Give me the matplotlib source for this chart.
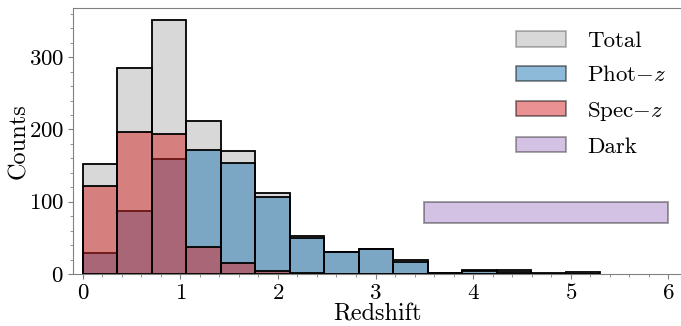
import numpy as np
import matplotlib.pyplot as plt
from matplotlib.patches import Patch
from matplotlib.ticker import MultipleLocator

plt.rcParams['font.family'] = 'cmr10'
plt.rcParams['mathtext.fontset'] = 'cm'
plt.rcParams['axes.formatter.use_mathtext'] = True
plt.rcParams['axes.unicode_minus'] = False

# redshift histogram, 15 bins between z=0 and z=5.3
edges = np.linspace(0, 5.3, 16)
total = [152, 285, 352, 211, 170, 112, 53, 30, 35, 19, 2, 6, 6, 1, 3]
phot = [29, 87, 159, 172, 153, 106, 50, 30, 34, 17, 1, 4, 3, 0, 0]
spec = [122, 197, 193, 38, 15, 4, 1, 0, 0, 0, 0, 0, 0, 0, 0]

# dark sources: redshift range and count band
dark_z = [3.5, 6.0]
dark_n = [70, 100]

c_tot, a_tot = 'grey', 0.3
c_phot, a_phot = '#1f77b4', 0.5
c_spec, a_spec = '#d62728', 0.5
c_dark, a_dark = '#9467bd', 0.4

fig = plt.figure(figsize=(6.81, 3.26), dpi=100)
ax = fig.add_axes([73/681, 1-274/326, 608/681, 266/326])

left = edges[:-1]
width = np.diff(edges)
for vals, c, a in [(total, c_tot, a_tot), (phot, c_phot, a_phot), (spec, c_spec, a_spec)]:
    ax.bar(left, vals, width=width, align='edge', color=plt.matplotlib.colors.to_rgba(c, a),
           edgecolor='k', linewidth=1.3)

ax.bar(dark_z[0], dark_n[1]-dark_n[0], width=dark_z[1]-dark_z[0], bottom=dark_n[0],
       align='edge', color=c_dark, edgecolor='k', linewidth=1.3, alpha=a_dark)

ax.set_xlim(-0.1, 6.13)
ax.set_ylim(0, 368)
ax.xaxis.set_minor_locator(MultipleLocator(0.2))
ax.yaxis.set_minor_locator(MultipleLocator(20))
ax.set_yticks([0, 100, 200, 300])
ax.set_xticks(range(7))
for s in ['left', 'top', 'bottom']:
    ax.spines[s].set_color('grey')
    ax.spines[s].set_linewidth(0.8)
ax.spines['right'].set_visible(False)
ax.tick_params(which='both', color='grey', labelsize=16.5, pad=3)
ax.tick_params(which='major', length=3.5, width=0.8)
ax.tick_params(which='minor', length=2, width=0.6)
ax.set_xlabel('Redshift', size=17.5, labelpad=0)
ax.set_ylabel('Counts', size=17.5, labelpad=-1)

handles = [Patch(facecolor=c_tot, edgecolor='k', alpha=a_tot, linewidth=1.2),
           Patch(facecolor=c_phot, edgecolor='k', alpha=a_phot, linewidth=1.2),
           Patch(facecolor=c_spec, edgecolor='k', alpha=a_spec, linewidth=1.2),
           Patch(facecolor=c_dark, edgecolor='k', alpha=a_dark, linewidth=1.2)]
labels = ['Total', 'Phot$-z$', 'Spec$-z$', 'Dark']
ax.legend(handles, labels, loc='upper left', bbox_to_anchor=(0.7286, 0.912), frameon=False,
          fontsize=16.5, handlelength=2.2, handleheight=0.66, handletextpad=0.9,
          labelspacing=0.62, borderpad=0, borderaxespad=0)

plt.savefig('out.png', dpi=100)
plt.close()
